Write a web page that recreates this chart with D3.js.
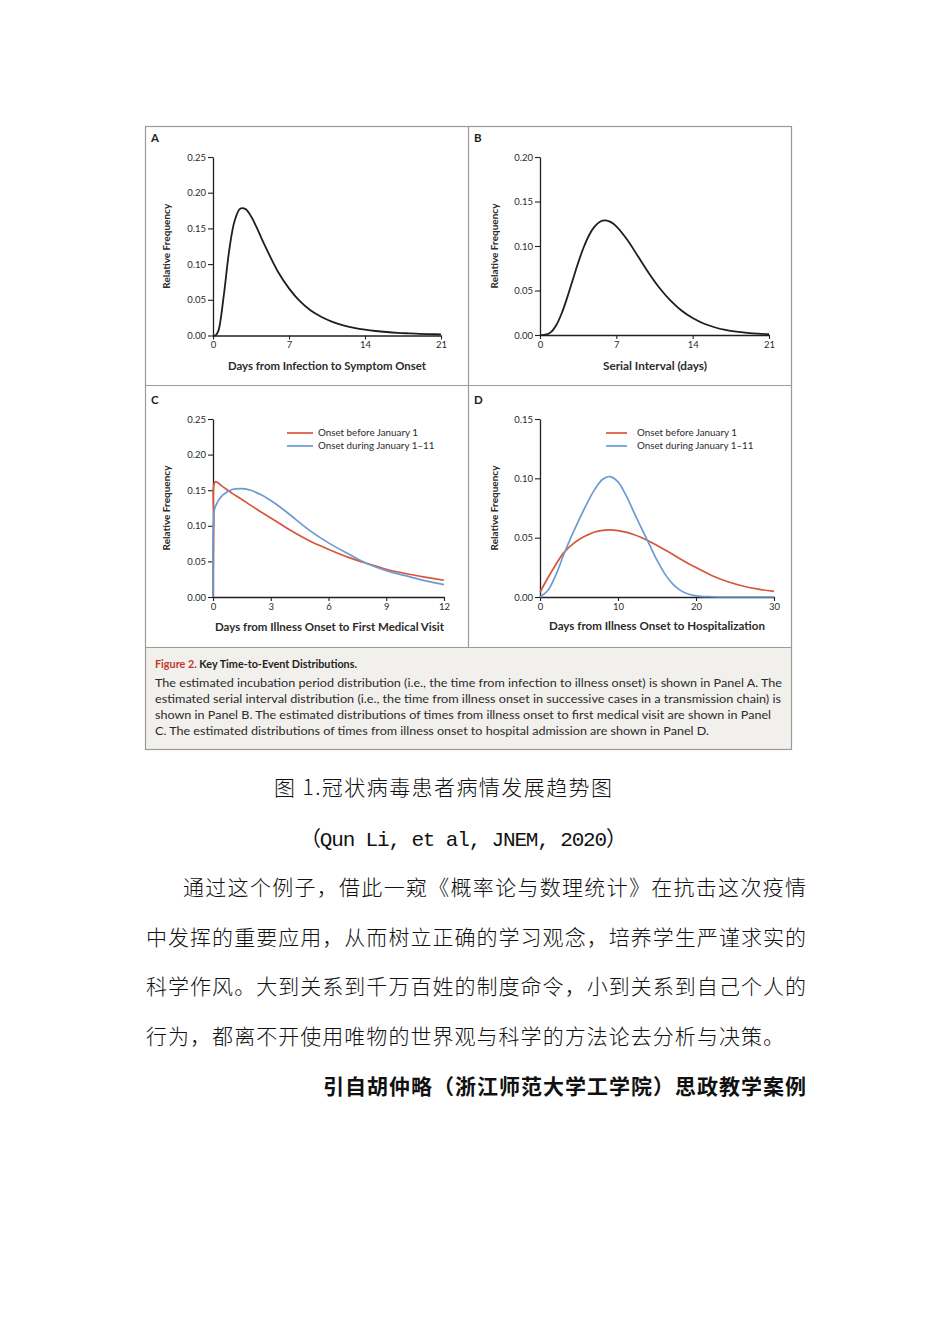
<!DOCTYPE html>
<html><head><meta charset="utf-8">
<script src="https://cdn.jsdelivr.net/npm/d3@7"></script>
<style>body{margin:0;background:#fff}svg{display:block}</style>
</head><body>
<svg id="c" width="950" height="1344"></svg>
<script>
// ---------- data ----------
const daysA = [0,0.25,0.5,1,1.5,2,2.5,3,3.5,4,4.5,5,6,7,8,9,10,11,12,13,14,15,16,17,18,19,20,21];
const freqA = [0,0.0003,0.0068,0.057,0.120,0.161,0.1775,0.177,0.167,0.152,0.135,0.119,0.089,0.066,0.048,0.035,0.026,0.0192,0.0143,0.0108,0.0082,0.0063,0.0049,0.0038,0.003,0.0023,0.0019,0.0015];

const daysB = [0,0.5,1,1.5,2,2.5,3,3.5,4,4.5,5,5.5,6,6.5,7,8,9,10,11,12,13,14,15,16,17,18,19,20,21];
const freqB = [0,0.0003,0.0032,0.0112,0.0247,0.0423,0.0618,0.0812,0.0983,0.1121,0.1217,0.1272,0.1287,0.1268,0.1221,0.107,0.0881,0.0692,0.0523,0.0383,0.0272,0.019,0.0129,0.0087,0.0057,0.0037,0.0024,0.0015,0.001];

const daysC = [0,0.04,0.12,0.5,1,1.5,2,2.5,3,3.5,4,5,6,7,8,9,10,11,12];
const freqCBefore = [0,0.10,0.162,0.155,0.1455,0.137,0.128,0.1195,0.111,0.1025,0.094,0.079,0.067,0.056,0.047,0.039,0.033,0.028,0.0235];
const freqCDuring = [0,0.115,0.127,0.143,0.151,0.1522,0.1495,0.1435,0.1355,0.126,0.1155,0.094,0.076,0.061,0.047,0.037,0.030,0.023,0.0175];

const daysD = [0,1,2,3,4,5,6,7,8,9,10,11,12,13,14,15,16,17,18,19,20,22,24,26,28,30];
const freqDBefore = [0.004,0.016,0.027,0.037,0.0435,0.0485,0.052,0.0548,0.0562,0.0566,0.056,0.0547,0.0527,0.0501,0.047,0.0435,0.0398,0.036,0.032,0.0283,0.0248,0.0182,0.0131,0.0093,0.0066,0.0048];
const freqDDuring = [0,0.0055,0.018,0.035,0.0506,0.065,0.0785,0.0905,0.0990,0.1015,0.097,0.086,0.072,0.058,0.0445,0.031,0.0195,0.011,0.0056,0.0025,0.001,0.0002,0,0,0,0];

const ticksXA = [0,7,14,21];
const ticksYA = [0,0.05,0.10,0.15,0.20,0.25];
const ticksXB = [0,7,14,21];
const ticksYB = [0,0.05,0.10,0.15,0.20];
const ticksXC = [0,3,6,9,12];
const ticksYC = [0,0.05,0.10,0.15,0.20,0.25];
const ticksXD = [0,10,20,30];
const ticksYD = [0,0.05,0.10,0.15];

const seriesNames = ["Onset before January 1","Onset during January 1\u201311"];

// ---------- drawing ----------
const svg = d3.select('#c');
svg.append('rect').attr('width',950).attr('height',1344).attr('fill','#fff');

const FONT = 'Lato, "Open Sans", sans-serif';
const RED = '#d6563b', BLUE = '#6b9bd0', INK = '#231f20';

// figure frame
svg.append('rect').attr('x',145.5).attr('y',647.5).attr('width',646).attr('height',102).attr('fill','#f2f0ec');
svg.append('rect').attr('x',145.5).attr('y',126.5).attr('width',646).attr('height',623)
  .attr('fill','none').attr('stroke','#9a9a9a').attr('stroke-width',1.2);
svg.append('line').attr('x1',468.5).attr('x2',468.5).attr('y1',126).attr('y2',647.5).attr('stroke','#9a9a9a').attr('stroke-width',1.2);
svg.append('line').attr('x1',145).attr('x2',792).attr('y1',385.5).attr('y2',385.5).attr('stroke','#9a9a9a').attr('stroke-width',1.2);
svg.append('line').attr('x1',145).attr('x2',792).attr('y1',647.5).attr('y2',647.5).attr('stroke','#9a9a9a').attr('stroke-width',1.2);

function panel(cfg){
  const x = d3.scaleLinear().domain(cfg.xDomain).range(cfg.xRange);
  const y = d3.scaleLinear().domain(cfg.yDomain).range(cfg.yRange);
  const g = svg.append('g');

  g.append('text').attr('x',cfg.letterX).attr('y',cfg.letterY).text(cfg.letter)
    .attr('font-family',FONT).attr('font-weight',700).attr('font-size',11.5).attr('fill',INK);

  const xa = g.append('g').attr('transform',`translate(0,${cfg.yRange[0]})`)
    .call(d3.axisBottom(x).tickValues(cfg.xTicks).tickSize(4).tickSizeOuter(0).tickPadding(2).tickFormat(d3.format('d')));
  const ya = g.append('g').attr('transform',`translate(${cfg.xRange[0]},0)`)
    .call(d3.axisLeft(y).tickValues(cfg.yTicks).tickSize(5).tickSizeOuter(0).tickPadding(2).tickFormat(d3.format('.2f')));
  [xa,ya].forEach(a=>{
    a.select('.domain').attr('stroke',INK).attr('stroke-width',1.3);
    a.selectAll('.tick line').attr('stroke',INK).attr('stroke-width',1.1);
    a.selectAll('.tick text').attr('font-family',FONT).attr('font-size',9.5).attr('fill','#2b2b2b');
  });

  // axis titles
  g.append('text').attr('x',cfg.xTitleX).attr('y',cfg.xTitleY).attr('text-anchor','middle')
    .attr('font-family',FONT).attr('font-weight',700).attr('font-size',10.5).attr('fill','#2b2b2b')
    .attr('textLength',cfg.xTitleLen).attr('lengthAdjust','spacingAndGlyphs').text(cfg.xTitle);
  const ymid = (cfg.yRange[0]+cfg.yRange[1])/2;
  g.append('text').attr('transform',`translate(${cfg.yTitleX},${ymid}) rotate(-90)`).attr('text-anchor','middle')
    .attr('font-family',FONT).attr('font-weight',700).attr('font-size',10).attr('fill','#2b2b2b')
    .text('Relative Frequency');

  const line = d3.line().x(d=>x(d[0])).y(d=>y(d[1])).curve(d3.curveCatmullRom.alpha(0.5));
  cfg.series.forEach(s=>{
    g.append('path').datum(s.days.map((d,i)=>[d,s.vals[i]]))
      .attr('d',line).attr('fill','none').attr('stroke',s.color).attr('stroke-width',s.width||1.7)
      .attr('stroke-linejoin','round');
  });

  if(cfg.legend){
    cfg.series.forEach((s,i)=>{
      const ly = cfg.legend.y + i*13;
      g.append('line').attr('x1',cfg.legend.x1).attr('x2',cfg.legend.x2).attr('y1',ly).attr('y2',ly)
        .attr('stroke',s.color).attr('stroke-width',1.7);
      g.append('text').attr('x',cfg.legend.tx).attr('y',ly+3.4).text(s.name)
        .attr('font-family',FONT).attr('font-size',9.8).attr('fill','#2b2b2b');
    });
  }
}

panel({letter:'A',letterX:151,letterY:142,xDomain:[0,21],xRange:[213,441],yDomain:[0,0.25],yRange:[335.5,157],
  xTicks:ticksXA,yTicks:ticksYA,xTitle:'Days from Infection to Symptom Onset',xTitleX:327,xTitleY:370,xTitleLen:198,yTitleX:170,
  series:[{days:daysA,vals:freqA,color:'#1e1e1e',width:1.8}]});
panel({letter:'B',letterX:474,letterY:142,xDomain:[0,21],xRange:[540,769],yDomain:[0,0.20],yRange:[335,157],
  xTicks:ticksXB,yTicks:ticksYB,xTitle:'Serial Interval (days)',xTitleX:655,xTitleY:370,xTitleLen:104,yTitleX:498,
  series:[{days:daysB,vals:freqB,color:'#1e1e1e',width:1.8}]});
panel({letter:'C',letterX:151,letterY:404,xDomain:[0,12],xRange:[213,444],yDomain:[0,0.25],yRange:[597,419],
  xTicks:ticksXC,yTicks:ticksYC,xTitle:'Days from Illness Onset to First Medical Visit',xTitleX:329.5,xTitleY:631,xTitleLen:229,yTitleX:170,
  legend:{x1:287,x2:313,tx:318,y:433},
  series:[{days:daysC,vals:freqCBefore,color:RED,name:seriesNames[0]},{days:daysC,vals:freqCDuring,color:BLUE,name:seriesNames[1]}]});
panel({letter:'D',letterX:474,letterY:404,xDomain:[0,30],xRange:[540,774],yDomain:[0,0.15],yRange:[597,419],
  xTicks:ticksXD,yTicks:ticksYD,xTitle:'Days from Illness Onset to Hospitalization',xTitleX:657,xTitleY:630,xTitleLen:216,yTitleX:498,
  legend:{x1:606,x2:627,tx:637,y:433},
  series:[{days:daysD,vals:freqDBefore,color:RED,name:seriesNames[0]},{days:daysD,vals:freqDDuring,color:BLUE,name:seriesNames[1]}]});

// ---------- caption ----------
const cap = svg.append('text').attr('x',155).attr('y',668).attr('font-family',FONT).attr('font-size',10.8);
cap.append('tspan').attr('fill','#c0392b').attr('font-weight',700).text('Figure 2. ');
cap.append('tspan').attr('fill','#231f20').attr('font-weight',700).text('Key Time-to-Event Distributions.');

const capLines = [
 ['The estimated incubation period distribution (i.e., the time from infection to illness onset) is shown in Panel A. The',627],
 ['estimated serial interval distribution (i.e., the time from illness onset in successive cases in a transmission chain) is',626],
 ['shown in Panel B. The estimated distributions of times from illness onset to first medical visit are shown in Panel',616],
 ['C. The estimated distributions of times from illness onset to hospital admission are shown in Panel D.',554]
];
capLines.forEach((l,i)=>{
  svg.append('text').attr('x',155).attr('y',687+i*16).attr('font-family',FONT).attr('font-size',10.8)
    .attr('fill','#2b2b2b').attr('textLength',l[1]).attr('lengthAdjust','spacingAndGlyphs').text(l[0]);
});

// ---------- Chinese body text ----------
const CJK = '"Noto Sans CJK SC", sans-serif';
const body = [
  {t:'图 1.冠状病毒患者病情发展趋势图', x:274, y:795, len:338, w:300, f:CJK},
  {t:'（Qun  Li, et al, JNEM, 2020）', x:300, y:846, len:327, w:400, f:'"Liberation Mono", "Noto Sans CJK SC", monospace'},
  {t:'通过这个例子，借此一窥《概率论与数理统计》在抗击这次疫情', x:183, y:895, len:623, w:300, f:CJK},
  {t:'中发挥的重要应用，从而树立正确的学习观念，培养学生严谨求实的', x:146, y:945, len:660, w:300, f:CJK},
  {t:'科学作风。大到关系到千万百姓的制度命令，小到关系到自己个人的', x:146, y:994, len:660, w:300, f:CJK},
  {t:'行为，都离不开使用唯物的世界观与科学的方法论去分析与决策。', x:146, y:1044, len:638, w:300, f:CJK},
  {t:'引自胡仲略（浙江师范大学工学院）思政教学案例', x:323, y:1094, len:483, w:700, f:CJK}
];
body.forEach(b=>{
  svg.append('text').attr('x',b.x).attr('y',b.y).attr('font-family',b.f).attr('font-size',21)
    .attr('font-weight',b.w).attr('fill','#111').attr('textLength',b.len).attr('lengthAdjust','spacing').text(b.t);
});
</script>
</body></html>
